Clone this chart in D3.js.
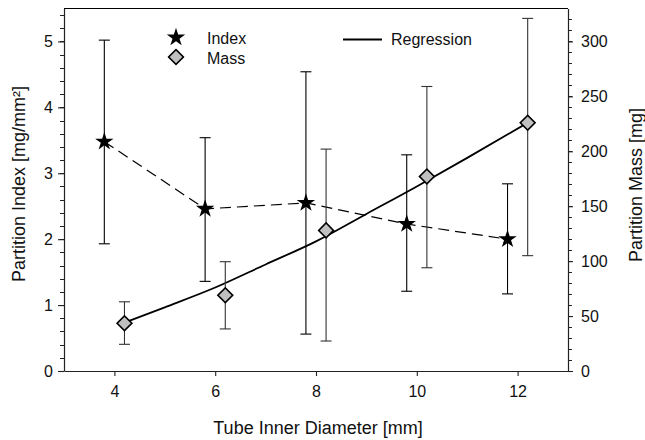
<!DOCTYPE html>
<html>
<head>
<meta charset="utf-8">
<script src="https://cdn.jsdelivr.net/npm/d3@7"></script>
<style>
  body { margin: 0; background: #fff; }
  svg { display: block; font-family: "Liberation Sans", Arial, sans-serif; }
</style>
</head>
<body>
<div id="viz"></div>
<script>
// Partition index (stars, left axis)
var idxX = [3.8, 5.8, 7.8, 9.8, 11.8];
var idxY = [3.48, 2.46, 2.55, 2.23, 2.0];
var idxHi = [5.02, 3.54, 4.54, 3.28, 2.84];
var idxLo = [1.93, 1.36, 0.56, 1.21, 1.17];

// Partition mass (diamonds, right axis)
var massX = [4.2, 6.2, 8.2, 10.2, 12.2];
var massY = [43.5, 69, 128, 177, 226];
var massHi = [63, 99.5, 202, 259, 321];
var massLo = [24.3, 38.3, 27.3, 94, 105];

// regression curve
var regX = [4.2, 5, 6, 7, 8, 9, 10, 11, 12.2];
var regY = [44, 58, 76, 97, 118, 143, 168, 194, 226];

var xTicks = [4, 6, 8, 10, 12];
var yLTicks = [0, 1, 2, 3, 4, 5];
var yRTicks = [0, 50, 100, 150, 200, 250, 300];

var w = 645, h = 440;
var pLeft = 64, pRight = 568, pTop = 8.5, pBottom = 371;

var svg = d3.select('#viz').append('svg')
  .attr('width', w)
  .attr('height', h);

var x = d3.scaleLinear().domain([3, 13]).range([pLeft, pRight]);
var yL = d3.scaleLinear().domain([0, 5.5]).range([pBottom, pTop]);
var yR = d3.scaleLinear().domain([0, 330]).range([pBottom, pTop]);

// top border
svg.append('line')
  .attr('x1', pLeft).attr('x2', pRight)
  .attr('y1', pTop).attr('y2', pTop)
  .attr('stroke', '#000').attr('stroke-width', 1.2);

// minor ticks
var minL = d3.range(0, 56, 2).map(d => d / 10);
var minR = d3.range(0, 330, 10);
svg.append('g').attr('stroke', '#222').attr('stroke-width', 1)
  .selectAll('line').data(minL).enter().append('line')
  .attr('x1', pLeft - 4).attr('x2', pLeft)
  .attr('y1', d => Math.round(yL(d)) + 0.5).attr('y2', d => Math.round(yL(d)) + 0.5);
svg.append('g').attr('stroke', '#222').attr('stroke-width', 1)
  .selectAll('line').data(minR).enter().append('line')
  .attr('x1', pRight).attr('x2', pRight + 4)
  .attr('y1', d => Math.round(yR(d)) + 0.5).attr('y2', d => Math.round(yR(d)) + 0.5);

// left axis
svg.append('g')
  .attr('transform', 'translate(' + pLeft + ',0)')
  .call(d3.axisLeft(yL).tickValues(yLTicks).tickSize(6).tickPadding(5).tickSizeOuter(0).tickFormat(d3.format('d')));

// right axis
svg.append('g')
  .attr('transform', 'translate(' + pRight + ',0)')
  .call(d3.axisRight(yR).tickValues(yRTicks).tickSize(5).tickPadding(8).tickSizeOuter(0));

// bottom axis
svg.append('g')
  .attr('transform', 'translate(0,' + pBottom + ')')
  .call(d3.axisBottom(x).tickValues(xTicks).tickSize(5).tickPadding(10).tickSizeOuter(0));

svg.selectAll('.tick line').attr('stroke', '#222').attr('stroke-width', 1.1);
svg.selectAll('.domain').attr('stroke', '#222').attr('stroke-width', 1.2);
svg.selectAll('.tick text')
  .attr('font-size', 16)
  .attr('fill', '#111')
  .style('font-family', '"Liberation Sans", Arial, sans-serif');

// axis titles
svg.append('text')
  .attr('transform', 'translate(25,184) rotate(-90)')
  .attr('text-anchor', 'middle')
  .attr('font-size', 18)
  .attr('fill', '#111')
  .text('Partition Index [mg/mm²]');

svg.append('text')
  .attr('transform', 'translate(642,185) rotate(-90)')
  .attr('text-anchor', 'middle')
  .attr('font-size', 18)
  .attr('fill', '#111')
  .text('Partition Mass [mg]');

svg.append('text')
  .attr('x', 318)
  .attr('y', 434)
  .attr('text-anchor', 'middle')
  .attr('font-size', 18)
  .attr('fill', '#111')
  .text('Tube Inner Diameter [mm]');

// regression curve
var regLine = d3.line()
  .x((d, i) => x(regX[i]))
  .y(d => yR(d))
  .curve(d3.curveMonotoneX);
svg.append('path')
  .datum(regY)
  .attr('d', regLine)
  .attr('fill', 'none')
  .attr('stroke', '#000')
  .attr('stroke-width', 1.8);

// dashed index line
var idxLine = d3.line()
  .x((d, i) => x(idxX[i]))
  .y(d => yL(d));
svg.append('path')
  .datum(idxY)
  .attr('d', idxLine)
  .attr('fill', 'none')
  .attr('stroke', '#000')
  .attr('stroke-width', 1.2)
  .attr('stroke-dasharray', '11,6');

// error bars
function errBars(xs, hi, lo, ys, col) {
  var g = svg.append('g').attr('stroke', col).attr('stroke-width', 1.1);
  xs.forEach(function(xv, i) {
    var cx = x(xv);
    g.append('line').attr('x1', cx).attr('x2', cx).attr('y1', ys(hi[i])).attr('y2', ys(lo[i]));
    g.append('line').attr('x1', cx - 5.5).attr('x2', cx + 5.5).attr('y1', ys(hi[i])).attr('y2', ys(hi[i]));
    g.append('line').attr('x1', cx - 5.5).attr('x2', cx + 5.5).attr('y1', ys(lo[i])).attr('y2', ys(lo[i]));
  });
}
errBars(idxX, idxHi, idxLo, yL, '#000');
errBars(massX, massHi, massLo, yR, '#333');

// markers
var star = d3.symbol().type(d3.symbolStar).size(105);
var diamond = d3.symbol().type(d3.symbolSquare).size(110);

svg.selectAll('.star')
  .data(idxY)
  .enter()
  .append('path')
  .attr('class', 'star')
  .attr('d', star)
  .attr('transform', (d, i) => 'translate(' + x(idxX[i]) + ',' + yL(d) + ')')
  .attr('fill', '#000');

svg.selectAll('.dia')
  .data(massY)
  .enter()
  .append('path')
  .attr('class', 'dia')
  .attr('d', diamond)
  .attr('transform', (d, i) => 'translate(' + x(massX[i]) + ',' + yR(d) + ') rotate(45)')
  .attr('fill', '#c0c0c0')
  .attr('stroke', '#000')
  .attr('stroke-width', 1.6);

// legend
var lg = svg.append('g').attr('font-size', 16).attr('fill', '#111');
lg.append('path').attr('d', star)
  .attr('transform', 'translate(176,37.5)').attr('fill', '#000');
lg.append('text').attr('x', 207).attr('y', 43.5).text('Index');
lg.append('path').attr('d', diamond)
  .attr('transform', 'translate(176,57) rotate(45)')
  .attr('fill', '#c0c0c0').attr('stroke', '#000').attr('stroke-width', 1.6);
lg.append('text').attr('x', 207).attr('y', 63.5).text('Mass');
lg.append('line').attr('x1', 343).attr('x2', 382).attr('y1', 39.5).attr('y2', 39.5)
  .attr('stroke', '#000').attr('stroke-width', 1.8);
lg.append('text').attr('x', 391).attr('y', 45).text('Regression');
</script>
</body>
</html>
